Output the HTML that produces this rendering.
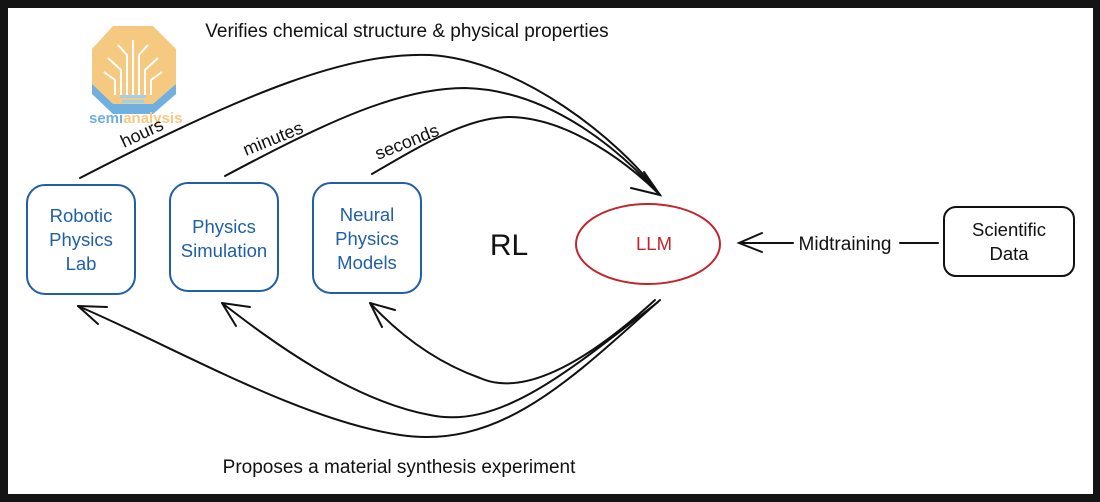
<!DOCTYPE html>
<html><head><meta charset="utf-8"><style>
body{margin:0;width:1100px;height:502px;background:#111;overflow:hidden}
svg{display:block}
text{font-family:"Liberation Sans",sans-serif}
</style></head><body>
<svg width="1100" height="502" viewBox="0 0 1100 502">
<rect x="0" y="0" width="1100" height="502" fill="#141414"/>
<rect x="8" y="8" width="1085" height="486" fill="#fff"/>
<!-- logo -->
<polygon points="113,26 153,26 176,49 176,92 153,112 113,112 92,92 92,49" fill="#f6c981"/>
<path d="M92,84 L113,104 L153,104 L176,84 L176,94 L153,114 L113,114 L92,94Z" fill="#6fb0e0"/>
<g stroke="#fff" stroke-width="2" fill="none">
<path d="M133,95 V40 M127,95 V55 L118,45 M139,95 V55 L148,45 M121,95 V70 L108,58 M145,95 V70 L158,58 M115,95 V80 L104,72 M151,95 V80 L162,72"/>
</g>
<rect x="120" y="95" width="26" height="3" fill="#9fd0f0"/>
<rect x="122" y="100" width="22" height="3" fill="#9fd0f0"/>
<text x="89" y="123" font-size="15" font-weight="bold" fill="#6fb0e0">semi<tspan fill="#f6c981">analysis</tspan></text>
<!-- top text -->
<text x="407" y="37" font-size="19" text-anchor="middle" fill="#111">Verifies chemical structure &amp; physical properties</text>
<text x="399" y="473" font-size="19" text-anchor="middle" fill="#111">Proposes a material synthesis experiment</text>
<!-- boxes -->
<g fill="none" stroke="#1f5fa8" stroke-width="2">
<rect x="27" y="185" width="108" height="109" rx="18"/>
<rect x="170" y="183" width="108" height="108" rx="18"/>
<rect x="313" y="183" width="108" height="110" rx="18"/>
</g>
<g font-size="18.5" fill="#1f5fa8" text-anchor="middle">
<text x="81" y="222">Robotic</text><text x="81" y="246">Physics</text><text x="81" y="270">Lab</text>
<text x="224" y="233">Physics</text><text x="224" y="257">Simulation</text>
<text x="367" y="221">Neural</text><text x="367" y="245">Physics</text><text x="367" y="269">Models</text>
</g>
<text x="509" y="255" font-size="30" text-anchor="middle" fill="#111">RL</text>
<ellipse cx="648" cy="244" rx="72" ry="40" fill="none" stroke="#c0262c" stroke-width="2"/>
<text x="654" y="250" font-size="18.5" text-anchor="middle" fill="#c0262c">LLM</text>
<rect x="944" y="207" width="130" height="69" rx="12" fill="none" stroke="#111" stroke-width="2"/>
<text x="1009" y="236" font-size="18.5" text-anchor="middle" fill="#111">Scientific</text>
<text x="1009" y="260" font-size="18.5" text-anchor="middle" fill="#111">Data</text>
<text x="845" y="250" font-size="19" text-anchor="middle" fill="#111">Midtraining</text>
<g fill="none" stroke="#111" stroke-width="2" stroke-linecap="round">
<path d="M900,243 H938"/>
<path d="M793,243 H739 M762,233 L739,243 L762,252"/>
<!-- top curves -->
<path d="M80,178 C250,90 350,52 430,55 C520,60 620,140 660,195"/>
<path d="M225,176 C330,120 400,88 465,88 C550,90 620,150 660,195"/>
<path d="M372,174 C430,140 470,117 510,117 C570,118 630,165 660,195"/>
<path d="M644,172 L660,195 L631,188"/>
<!-- bottom curves -->
<path d="M655,300 C600,350 530,400 480,378 C430,360 395,330 370,303"/>
<path d="M658,302 C570,370 500,430 430,415 C350,400 270,340 222,303"/>
<path d="M660,300 C570,380 500,450 400,435 C300,420 180,350 78,306"/>
<path d="M370,303 L395,310 M370,303 L382,327"/>
<path d="M222,303 L250,307 M222,303 L236,326"/>
<path d="M78,306 L107,307 M78,306 L98,324"/>
</g>
<g font-size="18" fill="#111">
<text transform="translate(124,148) rotate(-25)">hours</text>
<text transform="translate(246,156) rotate(-22)">minutes</text>
<text transform="translate(378,160) rotate(-22)">seconds</text>
</g>
</svg>
</body></html>
